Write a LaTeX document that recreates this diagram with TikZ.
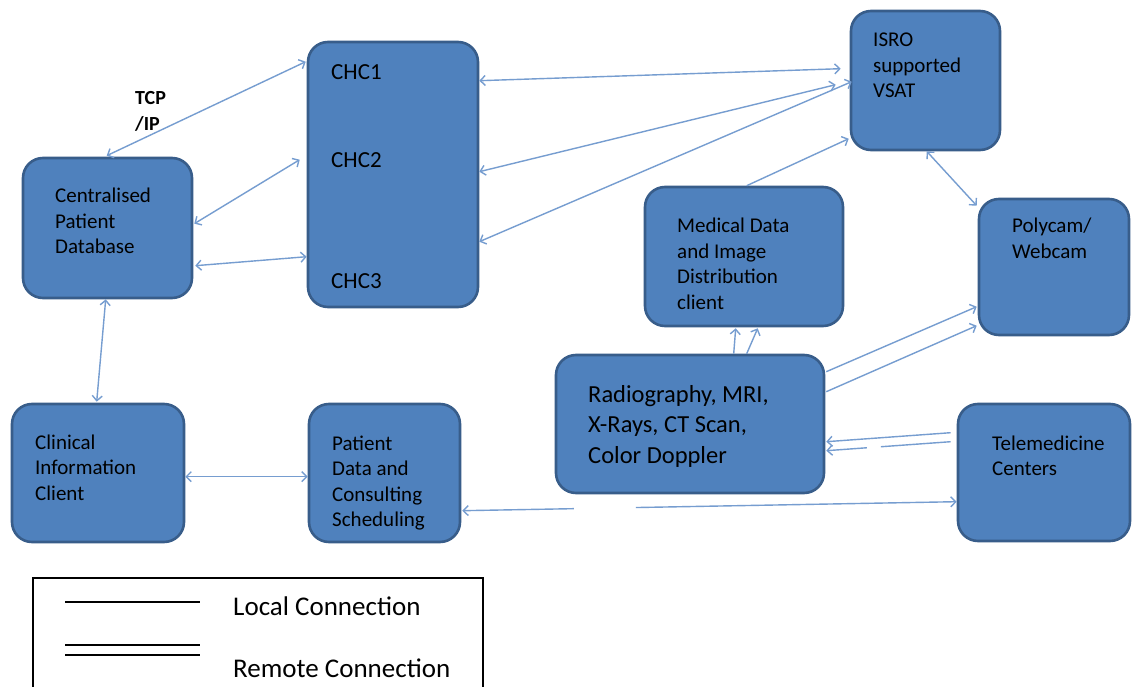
\documentclass[tikz,border=0pt]{standalone}
\usepackage{fontspec}
\setmainfont{Carlito}
\usetikzlibrary{arrows.meta,calc}
\definecolor{boxfill}{HTML}{4F81BD}
\definecolor{boxline}{HTML}{385D8A}
\definecolor{connc}{HTML}{769DD0}
\tikzset{
  box/.style={draw=boxline, fill=boxfill, line width=2.6pt, rounded corners=20pt, inner sep=0pt},
  txt/.style={anchor=base west, inner sep=0pt, align=flush left, text width=300pt, font=\fontsize{21}{25.5}\selectfont},
  conn/.style={draw=connc, line width=1.4pt},
  >={Straight Barb[length=5pt,width=10pt]},
  legline/.style={draw=black, line width=1.4pt},
  legtxt/.style={anchor=base west, inner sep=0pt, font=\fontsize{27}{32}\selectfont}
}
\begin{document}
\begin{tikzpicture}[x=1pt,y=-1pt]
\useasboundingbox (0,0) rectangle (1133,687);
\fill[white] (0,0) rectangle (1133,687);
% boxes
\node[box, minimum width=169pt, minimum height=140pt] (cpd) at (107.5,228) {};
\node[box, minimum width=170pt, minimum height=265pt] (chc) at (393,174.5) {};
\node[box, minimum width=149pt, minimum height=139pt] (isro) at (925.5,80.5) {};
\node[box, minimum width=198pt, minimum height=139pt] (med) at (744,256.5) {};
\node[box, minimum width=150pt, minimum height=136pt] (poly) at (1054,267) {};
\node[box, minimum width=268pt, minimum height=138pt] (rad) at (690,424) {};
\node[box, minimum width=172pt, minimum height=137pt] (tele) at (1044,472.5) {};
\node[box, minimum width=172pt, minimum height=138pt] (cic) at (98,473) {};
\node[box, minimum width=151pt, minimum height=138pt] (pdc) at (384.5,473) {};
% texts
\node[txt, font=\bfseries\fontsize{20}{26}\selectfont] (tcp) at (135,105) {TCP\\/IP};
\node[txt] (tcpd) at (55,203) {Centralised\\Patient\\Database};
\node[txt, font=\fontsize{23}{28}\selectfont] (t1) at (331,80) {CHC1};
\node[txt, font=\fontsize{23}{28}\selectfont] (t2) at (331,168) {CHC2};
\node[txt, font=\fontsize{23}{28}\selectfont] (t3) at (331,288) {CHC3};
\node[txt] (tisro) at (873,47) {ISRO\\supported\\VSAT};
\node[txt] (tmed) at (677,233) {Medical Data\\and Image\\Distribution\\client};
\node[txt] (tpoly) at (1012,233) {Polycam/\\Webcam};
\node[txt, font=\fontsize{24.5}{30.5}\selectfont] (trad) at (588,402) {Radiography, MRI,\\X-Rays, CT Scan,\\Color Doppler};
\node[txt] (ttele) at (992,450) {Telemedicine\\Centers};
\node[txt] (tcic) at (35,449) {Clinical\\Information\\Client};
\node[txt] (tpdc) at (332,450) {Patient\\Data and\\Consulting\\Scheduling};
% connectors
\draw[conn,<->] ($(cpd.north west)+(85,-1)$) -- ($(chc.north west)+(-1,21)$);
\draw[conn,<->] ($(cpd.north east)+(1,67)$) -- ($(chc.north west)+(-7,119)$);
\draw[conn,<->] ($(cpd.north east)+(2,109)$) -- ($(chc.north west)+(0,216)$);
\draw[conn,<->] ($(cpd.south west)+(84,0)$) -- ($(cic.north west)+(86,-1)$);
\draw[conn,<->] ($(cic.north east)+(0,74)$) -- ($(pdc.north west)+(0,74)$);
\draw[conn,<->] ($(chc.north east)+(0,40)$) -- ($(isro.north west)+(-9,59)$);
\draw[conn,<->] ($(chc.north east)+(0,131)$) -- ($(isro.north west)+(-14,75)$);
\draw[conn,<->] ($(chc.north east)+(0,201)$) -- ($(isro.north west)+(2,72)$);
\draw[conn,->] ($(med.north west)+(103,0)$) -- ($(isro.north west)+(-1,129)$);
\draw[conn,<->] ($(isro.south west)+(77,0)$) -- ($(poly.north west)+(-1,8)$);
\draw[conn,->] ($(rad.north east)+(1,18)$) -- ($(poly.north west)+(-1,109)$);
\draw[conn,->] ($(rad.north east)+(1,38)$) -- ($(poly.north west)+(-1,128)$);
\draw[conn,->] ($(rad.north west)+(179,0)$) -- ($(med.south west)+(92,1)$);
\draw[conn,->] ($(rad.north west)+(192,0)$) -- ($(med.south west)+(114,1)$);
\draw[conn,->] ($(tele.north west)+(-6,30)$) -- ($(rad.north east)+(1,88)$);
\draw[conn,->,dash pattern=on 70pt off 14pt on 200pt] ($(tele.north west)+(-6,39)$) -- ($(rad.north east)+(1,97)$);
\draw[conn,<->,dash pattern=on 110pt off 62pt on 400pt] ($(pdc.north east)+(1,108)$) -- ($(tele.north west)+(0,99)$);
% legend
\draw[line width=1.2pt] (33,700) -- (33,578) -- (483,578) -- (483,700);
\draw[legline] (65,602) -- (200,602);
\draw[legline] (65,645) -- (200,645);
\draw[legline] (65,655) -- (200,655);
\node[legtxt] (lloc) at (233,615) {Local Connection};
\node[legtxt] (lrem) at (233,677) {Remote Connection};
\end{tikzpicture}
\end{document}
